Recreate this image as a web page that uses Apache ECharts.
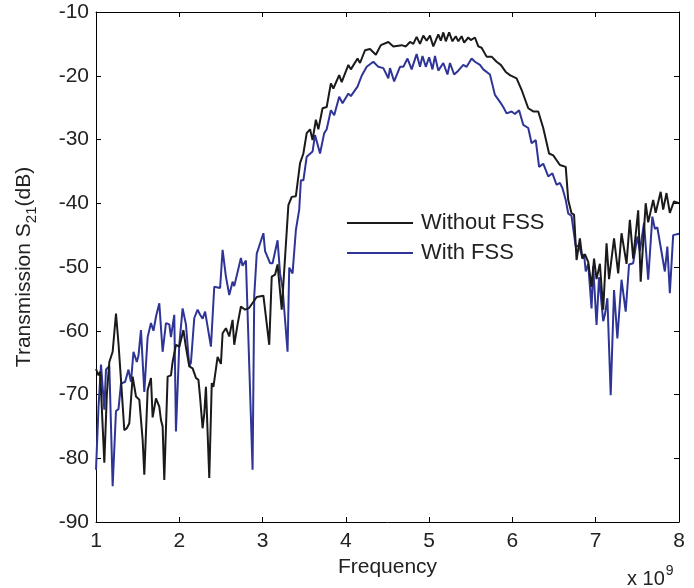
<!DOCTYPE html>
<html>
<head>
<meta charset="utf-8">
<script src="https://cdn.jsdelivr.net/npm/echarts@6/dist/echarts.min.js"></script>
<style>
html,body{margin:0;padding:0;background:#fff;}
#chart{width:694px;height:588px;}
</style>
</head>
<body>
<div id="chart"></div>
<script>
// Frequency (GHz, axis shows x 10^9) and S21 (dB)
const freqWithout = [1.00,1.03,1.05,1.08,1.10,1.13,1.16,1.20,1.24,1.27,1.30,1.34,1.37,1.40,1.44,1.48,1.52,1.54,1.56,1.58,1.62,1.66,1.68,1.72,1.76,1.78,1.80,1.82,1.86,1.90,1.92,1.96,2.00,2.05,2.08,2.12,2.16,2.20,2.23,2.25,2.28,2.30,2.32,2.36,2.39,2.41,2.46,2.50,2.52,2.56,2.60,2.64,2.66,2.70,2.74,2.79,2.84,2.86,2.93,3.01,3.08,3.11,3.15,3.18,3.23,3.31,3.35,3.40,3.45,3.49,3.53,3.57,3.60,3.64,3.67,3.72,3.77,3.82,3.85,3.92,3.95,4.03,4.06,4.14,4.17,4.23,4.29,4.36,4.42,4.51,4.57,4.67,4.72,4.77,4.81,4.85,4.89,4.93,4.97,5.01,5.05,5.11,5.14,5.17,5.20,5.24,5.28,5.32,5.35,5.39,5.42,5.47,5.50,5.55,5.59,5.63,5.69,5.75,5.81,5.86,5.92,5.97,6.05,6.11,6.19,6.25,6.31,6.37,6.44,6.49,6.57,6.64,6.67,6.71,6.74,6.77,6.81,6.84,6.87,6.91,6.95,6.98,7.01,7.05,7.09,7.13,7.16,7.22,7.27,7.31,7.37,7.41,7.45,7.51,7.54,7.60,7.63,7.69,7.72,7.78,7.81,7.85,7.89,7.94,8.00];
const s21Without = [-66.0,-67.0,-66.4,-75.0,-80.7,-70.0,-64.9,-63.3,-57.3,-62.0,-67.7,-75.6,-75.3,-74.5,-67.2,-70.3,-70.8,-70.5,-77.1,-82.6,-69.3,-67.4,-73.6,-70.6,-71.9,-74.0,-75.0,-83.4,-67.2,-67.0,-64.9,-62.2,-62.5,-59.9,-62.6,-65.6,-65.9,-67.4,-67.7,-70.5,-75.3,-73.0,-68.8,-83.1,-68.2,-68.8,-64.1,-65.2,-60.4,-59.6,-60.9,-58.3,-62.2,-59.0,-56.2,-56.7,-56.4,-56.7,-54.7,-54.5,-62.2,-51.5,-51.2,-49.6,-56.7,-40.3,-39.0,-38.9,-33.7,-32.2,-29.0,-28.4,-30.1,-26.9,-28.4,-25.1,-24.9,-21.2,-22.0,-19.9,-21.0,-18.3,-19.0,-17.3,-18.0,-16.0,-15.8,-16.7,-15.2,-14.7,-15.4,-15.2,-15.4,-14.7,-15.0,-13.9,-15.0,-13.7,-14.5,-13.7,-15.4,-13.5,-14.5,-13.2,-14.6,-13.2,-14.6,-13.8,-14.6,-13.8,-14.8,-14.0,-14.4,-14.0,-15.4,-15.6,-17.0,-17.0,-17.8,-18.3,-19.4,-19.9,-20.4,-22.2,-25.1,-25.6,-25.6,-28.2,-32.2,-32.5,-34.0,-34.3,-39.5,-41.6,-41.8,-48.9,-45.5,-48.7,-48.0,-49.2,-53.1,-48.7,-51.9,-49.5,-56.7,-46.3,-51.9,-45.5,-51.0,-44.7,-49.5,-42.6,-48.7,-41.1,-52.3,-40.0,-43.0,-39.5,-41.5,-38.2,-41.0,-38.4,-41.5,-39.7,-40.0];

const freqWith = [1.00,1.03,1.06,1.10,1.12,1.16,1.20,1.24,1.27,1.30,1.35,1.39,1.42,1.45,1.49,1.51,1.54,1.58,1.62,1.66,1.69,1.72,1.76,1.80,1.84,1.88,1.90,1.94,1.96,2.00,2.04,2.08,2.12,2.14,2.18,2.22,2.25,2.28,2.31,2.38,2.42,2.49,2.52,2.56,2.60,2.64,2.66,2.74,2.76,2.80,2.88,2.90,2.93,3.01,3.03,3.09,3.12,3.18,3.21,3.24,3.30,3.32,3.36,3.40,3.44,3.46,3.49,3.53,3.60,3.63,3.69,3.74,3.77,3.82,3.86,3.92,3.96,4.03,4.06,4.14,4.19,4.25,4.33,4.39,4.45,4.51,4.53,4.58,4.65,4.69,4.74,4.79,4.85,4.89,4.92,4.96,5.00,5.04,5.07,5.11,5.17,5.22,5.25,5.30,5.35,5.41,5.45,5.51,5.55,5.61,5.65,5.67,5.73,5.79,5.85,5.89,5.93,5.99,6.03,6.08,6.13,6.19,6.23,6.28,6.32,6.37,6.43,6.48,6.53,6.57,6.60,6.64,6.67,6.71,6.76,6.80,6.84,6.86,6.88,6.91,6.95,6.97,7.01,7.04,7.09,7.11,7.14,7.18,7.22,7.26,7.31,7.36,7.40,7.45,7.50,7.53,7.58,7.63,7.68,7.71,7.74,7.83,7.86,7.89,7.93,8.00];
const s21With = [-81.8,-72.0,-65.3,-72.4,-66.1,-65.5,-84.4,-72.6,-72.3,-68.3,-68.0,-66.1,-68.0,-63.3,-64.9,-63.9,-59.9,-69.6,-61.0,-58.8,-60.0,-57.8,-55.7,-63.3,-58.8,-59.0,-61.0,-57.5,-75.8,-62.2,-56.5,-59.0,-65.6,-65.0,-58.0,-56.7,-57.5,-58.1,-57.0,-62.5,-53.1,-53.3,-47.3,-51.5,-54.4,-52.3,-53.0,-48.6,-49.8,-49.0,-81.8,-54.5,-47.9,-44.7,-47.5,-49.4,-49.4,-45.8,-51.0,-53.3,-63.3,-50.1,-51.0,-44.2,-41.0,-36.4,-36.4,-32.7,-31.9,-29.3,-32.2,-29.0,-28.4,-25.4,-26.2,-23.3,-24.3,-22.8,-23.2,-21.7,-20.0,-18.6,-17.8,-18.6,-18.8,-20.4,-18.8,-20.9,-18.6,-18.6,-17.3,-19.0,-16.6,-18.6,-16.9,-18.6,-17.1,-19.0,-16.9,-19.2,-18.0,-19.8,-18.0,-19.8,-19.2,-18.3,-18.6,-17.3,-17.8,-18.3,-19.0,-19.2,-19.8,-23.0,-24.1,-24.9,-25.9,-25.6,-26.0,-25.4,-27.7,-28.2,-30.6,-30.1,-34.3,-33.8,-35.8,-35.3,-37.1,-36.8,-37.6,-39.5,-41.6,-42.0,-46.8,-46.6,-48.6,-48.0,-50.7,-49.5,-56.5,-49.9,-59.1,-51.6,-58.5,-57.5,-54.9,-70.1,-53.6,-61.2,-52.0,-57.0,-49.6,-49.4,-45.2,-47.5,-43.1,-52.0,-42.1,-44.0,-43.8,-50.7,-46.8,-54.1,-45.0,-44.8];

const seriesNames = ['Without FSS', 'With FSS'];
const xTicks = [1,2,3,4,5,6,7,8];
const yTicks = [-90,-80,-70,-60,-50,-40,-30,-20,-10];

const FONT = '"Liberation Sans", Arial, Helvetica, sans-serif';
const zip = (a, b) => a.map((v, i) => [v, b[i]]);

const chart = echarts.init(document.getElementById('chart'), null, {renderer: 'canvas'});
const axisLine = {show: true, onZero: false, lineStyle: {color: '#000', width: 1}};
const axisTick = {show: true, inside: true, length: 5, lineStyle: {color: '#000', width: 1}};

chart.setOption({
  animation: false,
  backgroundColor: '#fff',
  grid: {left: 96, top: 12, width: 583, height: 510, containLabel: false},
  legend: {
    orient: 'vertical',
    left: 342, top: 206,
    icon: 'rect',
    itemWidth: 66, itemHeight: 2,
    itemGap: 6,
    data: seriesNames,
    textStyle: {fontFamily: FONT, fontSize: 22, color: '#222', lineHeight: 24, padding: [0,0,0,3]}
  },
  xAxis: [
    {type: 'value', min: xTicks[0], max: xTicks[xTicks.length-1], interval: 1,
     name: 'Frequency', nameLocation: 'middle', nameGap: 35,
     nameTextStyle: {fontFamily: FONT, fontSize: 21, color: '#222'},
     axisLine, axisTick, splitLine: {show: false},
     axisLabel: {fontFamily: FONT, fontSize: 21, color: '#222', margin: 9}},
    {type: 'value', position: 'top', min: xTicks[0], max: xTicks[xTicks.length-1], interval: 1,
     axisLine, axisTick, axisLabel: {show: false}, splitLine: {show: false}}
  ],
  yAxis: [
    {type: 'value', min: yTicks[0], max: yTicks[yTicks.length-1], interval: 10,
     name: '{a|Transmission S}{b|21}{a|(dB)}', nameLocation: 'middle', nameGap: 57, nameRotate: 90,
     nameTextStyle: {fontFamily: FONT, color: '#222',
       rich: {a: {fontFamily: FONT, fontSize: 21, color: '#222'},
              b: {fontFamily: FONT, fontSize: 15, color: '#222', verticalAlign: 'bottom', padding: [14,0,0,0]}}},
     axisLine, axisTick, splitLine: {show: false},
     axisLabel: {fontFamily: FONT, fontSize: 21, color: '#222', margin: 7}},
    {type: 'value', position: 'right', min: yTicks[0], max: yTicks[yTicks.length-1], interval: 10,
     axisLine, axisTick, axisLabel: {show: false}, splitLine: {show: false}}
  ],
  graphic: [{
    type: 'text', left: 627, top: 564,
    style: {text: '{a|x 10}{s|9}', font: '20px ' + FONT, fill: '#222',
      rich: {a: {fontFamily: FONT, fontSize: 20, fill: '#222', padding: [8,0,0,0]},
             s: {fontFamily: FONT, fontSize: 14, fill: '#222', padding: [0,0,8,1]}}}
  }],
  series: [
    {name: seriesNames[0], type: 'line', data: zip(freqWithout, s21Without), showSymbol: false, symbol: 'none',
     lineStyle: {color: '#1a1a1a', width: 2}, itemStyle: {color: '#1a1a1a'}, z: 3},
    {name: seriesNames[1], type: 'line', data: zip(freqWith, s21With), showSymbol: false, symbol: 'none',
     lineStyle: {color: '#2e3596', width: 2}, itemStyle: {color: '#2e3596'}, z: 2}
  ]
});
</script>
</body>
</html>
